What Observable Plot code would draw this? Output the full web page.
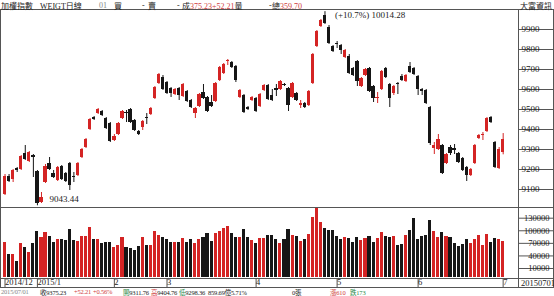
<!DOCTYPE html>
<html><head><meta charset="utf-8">
<script src="https://cdn.jsdelivr.net/npm/d3@7"></script>
<script src="https://cdn.jsdelivr.net/npm/@observablehq/plot@0.6"></script>
<style>
html,body{margin:0;padding:0;background:#fff;}
#wrap{position:relative;width:554px;height:296px;overflow:hidden;background:#fff;
 font-family:"Liberation Serif","Noto Sans CJK TC",serif;font-size:9px;color:#222;}
.s{position:absolute;white-space:nowrap;line-height:9px;}
.st{position:absolute;white-space:nowrap;line-height:8px;font-size:6.5px;letter-spacing:-0.2px;top:288px;}
.cj{font-family:"Noto Sans CJK TC",sans-serif;}
.hl{position:absolute;height:1px;background:#555;}
.vl{position:absolute;width:1px;background:#555;}
#price,#vol{position:absolute;left:0;}
#price{top:9px;}
#vol{top:207px;}
.red{color:#d04040;}
.grn{color:#2a8a4a;}
.gry{color:#888;}
</style></head><body><div id="wrap">
<div id="price"></div>
<div id="vol"></div>
<div class="hl" style="left:0;top:9px;width:554px"></div>
<div class="hl" style="left:0;top:207px;width:554px"></div>
<div class="hl" style="left:0;top:278px;width:554px"></div>
<div class="hl" style="left:0;top:287px;width:554px"></div>
<div class="vl" style="left:0;top:9px;height:279px"></div>
<div class="vl" style="left:518px;top:9px;height:279px"></div>
<div class="vl" style="left:553px;top:9px;height:279px"></div>
<div class="s cj" style="left:1px;top:1px;font-size:8px">加權指數</div>
<div class="s" style="left:40px;top:1px;font-size:8px">WEIGT<span class="cj">日線</span></div>
<div class="s gry" style="left:99px;top:1px;font-size:8px">01</div>
<div class="s cj" style="left:114px;top:1px;font-size:8px">買</div>
<div class="s" style="left:142px;top:1px;font-size:8px">-</div>
<div class="s cj" style="left:148px;top:1px;font-size:8px">賣</div>
<div class="s" style="left:177px;top:1px;font-size:8px">-</div>
<div class="s" style="left:182px;top:1px;font-size:8px"><span class="cj">成</span><span class="red">375.23+52.21</span><span class="cj">量</span></div>
<div class="s" style="left:269px;top:1px;font-size:8px">-</div>
<div class="s" style="left:272px;top:1px;font-size:8px"><span class="cj">總</span><span class="red">359.70</span></div>
<div class="s cj" style="left:520px;top:1px;font-size:8px">大富資訊</div>
<div class="s" style="left:521px;top:279px;font-size:8.5px">20150701</div>
<div class="st gry" style="left:1px">2015/07/01</div>
<div class="st" style="left:40px"><span class="cj">收</span>9375.23</div>
<div class="st red" style="left:74px">+52.21</div>
<div class="st red" style="left:93px">+0.56%</div>
<div class="st" style="left:123px"><span class="cj grn">開</span>9311.76</div>
<div class="st" style="left:151px"><span class="cj red">高</span>9404.76</div>
<div class="st" style="left:179px"><span class="cj grn">低</span>9298.36</div>
<div class="st" style="left:208px">859.69<span class="cj">億</span>5.71%</div>
<div class="st" style="left:292px">0<span class="cj">張</span></div>
<div class="st red" style="left:330px"><span class="cj">漲</span>610</div>
<div class="st grn" style="left:350px"><span class="cj">跌</span>173</div>
</div>
<script>
const opens = [9100,9190,9175,9230,9225,9305,9265,9295,9215,9060,9160,9255,9205,9170,9240,9205,9255,9190,9195,9285,9335,9425,9485,9505,9515,9480,9455,9370,9400,9480,9510,9525,9470,9415,9435,9485,9500,9580,9655,9685,9660,9630,9600,9630,9590,9615,9570,9505,9540,9610,9585,9560,9565,9670,9705,9765,9760,9740,9585,9595,9535,9570,9580,9540,9620,9645,9595,9630,9625,9650,9630,9585,9605,9545,9555,9545,9655,9840,9940,9995,9935,9840,9855,9845,9785,9790,9730,9765,9640,9695,9730,9640,9580,9625,9730,9650,9605,9655,9690,9665,9740,9730,9690,9625,9620,9535,9330,9325,9345,9255,9335,9330,9305,9280,9235,9195,9255,9380,9395,9415,9485,9360,9230,9311.76];
const highs = [9200,9200,9225,9235,9295,9345,9315,9300,9220,9110,9250,9285,9220,9240,9245,9210,9260,9210,9260,9330,9380,9480,9490,9530,9520,9485,9460,9400,9460,9520,9520,9530,9475,9420,9470,9505,9535,9640,9705,9695,9665,9635,9630,9635,9655,9620,9575,9535,9605,9650,9590,9595,9660,9740,9755,9775,9765,9745,9625,9600,9540,9590,9585,9605,9650,9650,9625,9650,9670,9655,9635,9660,9610,9570,9560,9620,9805,9920,9975,10014.28,9945,9845,9865,9850,9825,9800,9735,9770,9685,9730,9735,9645,9610,9720,9735,9655,9645,9660,9700,9700,9760,9735,9695,9630,9625,9540,9360,9400,9350,9305,9345,9350,9310,9285,9240,9230,9350,9400,9410,9485,9490,9365,9335,9404.76];
const lows = [9095,9160,9160,9210,9220,9270,9260,9185,9043.44,9055,9155,9220,9180,9165,9170,9160,9120,9160,9190,9280,9330,9420,9470,9500,9490,9425,9360,9365,9395,9475,9460,9455,9415,9395,9420,9450,9495,9575,9650,9620,9600,9585,9595,9570,9585,9560,9530,9480,9535,9575,9510,9535,9560,9665,9700,9745,9730,9660,9580,9505,9520,9565,9510,9535,9615,9570,9565,9590,9620,9640,9515,9580,9565,9530,9530,9540,9650,9835,9935,9950,9850,9810,9830,9800,9780,9700,9690,9640,9635,9690,9610,9560,9555,9620,9680,9535,9595,9600,9665,9660,9705,9695,9595,9595,9550,9345,9300,9320,9200,9250,9295,9300,9255,9215,9165,9190,9250,9375,9370,9410,9455,9230,9225,9298.36];
const closes = [9190,9165,9220,9220,9290,9275,9310,9285,9055,9085,9240,9225,9185,9235,9175,9165,9145,9185,9255,9325,9375,9475,9475,9525,9495,9430,9365,9390,9455,9515,9505,9460,9420,9400,9465,9480,9530,9635,9700,9625,9605,9605,9625,9595,9650,9565,9535,9530,9600,9580,9515,9540,9655,9735,9750,9770,9735,9670,9620,9510,9525,9585,9515,9600,9645,9575,9570,9620,9665,9645,9545,9655,9570,9555,9535,9615,9800,9915,9970,9955,9855,9815,9850,9820,9820,9705,9695,9665,9680,9725,9615,9580,9585,9715,9685,9580,9640,9650,9670,9695,9710,9700,9625,9615,9555,9355,9345,9375,9205,9300,9305,9320,9260,9220,9195,9225,9345,9395,9400,9480,9460,9235,9323.02,9375.23];
const volumes = [84500,55200,55200,38600,82100,71200,59300,80700,110000,96400,107600,98100,84500,91700,91700,89300,115500,89300,86900,98100,98500,119500,90200,90200,82100,83300,83300,71900,75900,96400,72600,70200,64800,74300,96400,75900,77400,110000,101200,95700,91000,84500,83300,84500,94000,84500,90000,82000,90000,96500,104400,87000,104400,110800,116400,122000,104400,96500,95700,114700,96500,88600,82000,92500,92500,100000,100400,90000,82000,90000,113900,100400,98000,86200,90000,102000,144200,164000,130700,116400,112400,112400,98000,90000,96500,94000,82900,95000,88600,94000,98000,82900,92500,106800,98000,95000,98800,76700,78300,100400,112400,140200,90000,98000,101200,136200,110000,95000,106800,98000,96500,80700,74300,78300,90900,80700,90000,99600,76700,102000,82900,92500,90000,86200];
const monthStarts = [0,8,27,40,62,82,102,123];
const monthLabels = ["2014/12","2015/1","2","3","4","5","6","7"];
const priceTicks = [9100,9200,9300,9400,9500,9600,9700,9800,9900];
const volumeTicks = [10000,40000,70000,100000,130000];
const lowLabel = "9043.44";
const highLabel = "(+10.7%) 10014.28";

const RED = "#d42424", BLK = "#161616";
const candles = opens.map((o, i) => ({i, open:o, high:highs[i], low:lows[i], close:closes[i], volume:volumes[i], up: closes[i] > opens[i]}));
const col = d => d.up ? RED : BLK;
const font = {fontFamily:"Liberation Serif, serif", fontSize:"9px", color:"#222", background:"transparent", overflow:"visible"};

const iLow = lows.indexOf(d3.min(lows)), iHigh = highs.indexOf(d3.max(highs));

const price = Plot.plot({
  width:554, height:198, marginLeft:0, marginRight:36, marginTop:0, marginBottom:0,
  x: {type:"linear", domain:[-0.5, 123.5], range:[2.5, 504.7], axis:null},
  y: {domain:[9100, 9900], range:[185, 25], label:null},
  style: font,
  marks: [
    Plot.ruleX(candles, {x:"i", y1:"low", y2:"high", stroke:col, strokeWidth:1}),
    Plot.rect(candles, {x1:d => d.i - 0.41, x2:d => d.i + 0.41, y1:"open", y2:"close", fill:col, shapeRendering:"crispEdges"}),
    Plot.axisY(priceTicks, {anchor:"right", tickSize:35, tickPadding:-32, textAnchor:"start", dy:-5, stroke:"#555", label:null, tickFormat:d => String(d)}),
    Plot.text([{i:iLow, v:lows[iLow]}], {x:"i", y:"v", text:() => lowLabel, dx:12, dy:-7, textAnchor:"start", fill:"#222"}),
    Plot.text([{i:iHigh, v:highs[iHigh]}], {x:"i", y:"v", text:() => highLabel, dx:10, dy:3, textAnchor:"start", fill:"#222"})
  ]
});
document.getElementById("price").appendChild(price);

const labelMap = new Map(monthStarts.map((m, k) => [m - 0.5, monthLabels[k]]));
const vol = Plot.plot({
  width:554, height:81, marginLeft:0, marginRight:36, marginTop:0, marginBottom:10,
  x: {type:"linear", domain:[-0.5, 123.5], range:[2.5, 504.7], label:null},
  y: {domain:[0, 130000], range:[70.2, 15.7], label:null},
  style: font,
  marks: [
    Plot.rectY(candles, {x1:d => d.i - 0.38, x2:d => d.i + 0.38, y:"volume", fill:col, shapeRendering:"crispEdges"}),
    Plot.axisY(volumeTicks, {anchor:"right", tickSize:35, tickPadding:-4, textAnchor:"end", dy:-5, stroke:"#555", label:null, fontSize:8.5, tickFormat:d => String(d)}),
    Plot.axisX(monthStarts.map(m => m - 0.5), {anchor:"bottom", tickSize:9, tickPadding:-9, textAnchor:"start", dx:2, dy:0, stroke:"#555", label:null, fontSize:8.5, tickFormat:d => labelMap.get(d)})
  ]
});
document.getElementById("vol").appendChild(vol);
</script>
</body></html>
